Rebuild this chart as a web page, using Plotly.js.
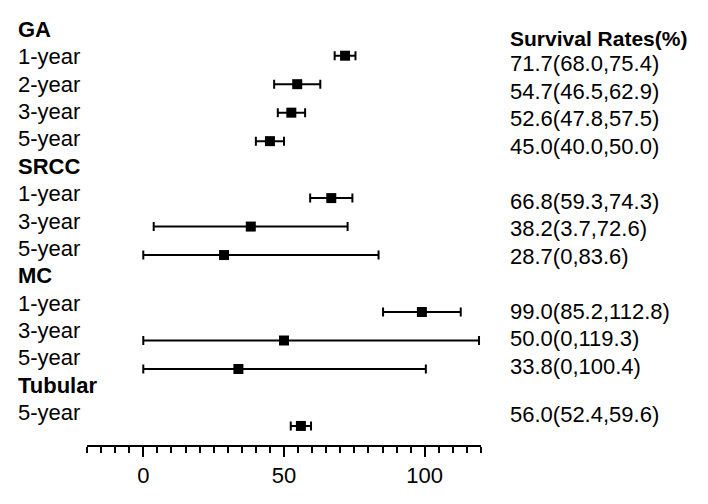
<!DOCTYPE html>
<html>
<head>
<meta charset="utf-8">
<script src="https://cdn.plot.ly/plotly-3.0.1.min.js"></script>
<style>html,body{margin:0;padding:0;background:#fff;}#chart{width:708px;height:504px;}</style>
</head>
<body>
<div id="chart"></div>
<script>
// ---- data ----
const groups = ['GA', 'SRCC', 'MC', 'Tubular'];
const periods = [
  ['1-year', '2-year', '3-year', '5-year'],
  ['1-year', '3-year', '5-year'],
  ['1-year', '3-year', '5-year'],
  ['5-year']
];
const rates = [[71.7, 54.7, 52.6, 45.0], [66.8, 38.2, 28.7], [99.0, 50.0, 33.8], [56.0]];
const lowers = [[68.0, 46.5, 47.8, 40.0], [59.3, 3.7, 0], [85.2, 0, 0], [52.4]];
const uppers = [[75.4, 62.9, 57.5, 50.0], [74.3, 72.6, 83.6], [112.8, 119.3, 100.4], [59.6]];
const ciText = [
  ['71.7(68.0,75.4)', '54.7(46.5,62.9)', '52.6(47.8,57.5)', '45.0(40.0,50.0)'],
  ['66.8(59.3,74.3)', '38.2(3.7,72.6)', '28.7(0,83.6)'],
  ['99.0(85.2,112.8)', '50.0(0,119.3)', '33.8(0,100.4)'],
  ['56.0(52.4,59.6)']
];
const columnTitle = 'Survival Rates(%)';

// ---- layout constants (pixels) ----
const W = 708, H = 504;
const plotL = 87, plotR = 481, axisPx = 445;
const markTop = 55.7, markStep = 28.48;     // marker grid
const labTop = 29.5, labStep = 27.36;       // left label grid
const valTop = 63.5, valStep = 27.5;        // right value grid
const valGroupShift = [0, 0, 0, -7];
const headPx = 38;
const labelX = 16, valueX = 508;
const FONT = 'Liberation Sans, Arial, sans-serif';
const FS = 22, HEAD_FS = 21;

const pxToY = p => (p - markTop) / markStep;
const pxToPaperX = p => (p - plotL) / (plotR - plotL);

// build rows
const xs = [], ys = [], ep = [], em = [];
const annotations = [];
let labelIdx = 0;
groups.forEach((g, gi) => {
  annotations.push({
    xref: 'paper', yref: 'y', x: pxToPaperX(labelX), y: pxToY(labTop + labStep * labelIdx),
    xanchor: 'left', yanchor: 'middle', showarrow: false, text: '<b>' + g + '</b>',
    font: {family: FONT, size: FS, color: '#000'}
  });
  labelIdx++;
  periods[gi].forEach((p, pi) => {
    const row = labelIdx - 1;
    xs.push(rates[gi][pi]);
    ys.push(row);
    ep.push(uppers[gi][pi] - rates[gi][pi]);
    em.push(rates[gi][pi] - lowers[gi][pi]);
    annotations.push({
      xref: 'paper', yref: 'y', x: pxToPaperX(labelX), y: pxToY(labTop + labStep * labelIdx),
      xanchor: 'left', yanchor: 'middle', showarrow: false, text: p,
      font: {family: FONT, size: FS, color: '#000'}
    });
    annotations.push({
      xref: 'paper', yref: 'y', x: pxToPaperX(valueX), y: pxToY(valTop + valStep * row + valGroupShift[gi]),
      xanchor: 'left', yanchor: 'middle', showarrow: false, text: ciText[gi][pi],
      font: {family: FONT, size: FS, color: '#000'}
    });
    labelIdx++;
  });
});
annotations.push({
  xref: 'paper', yref: 'y', x: pxToPaperX(valueX), y: pxToY(headPx),
  xanchor: 'left', yanchor: 'middle', showarrow: false, text: '<b>' + columnTitle + '</b>',
  font: {family: FONT, size: HEAD_FS, color: '#000'}
});

const trace = {
  type: 'scatter', mode: 'markers', x: xs, y: ys,
  marker: {symbol: 'square', size: 10, color: '#000'},
  error_x: {type: 'data', symmetric: false, array: ep, arrayminus: em,
            color: '#000', thickness: 2, width: 4.5},
  cliponaxis: false, hoverinfo: 'skip', showlegend: false
};

const layout = {
  width: W, height: H,
  margin: {l: plotL, r: W - plotR, t: 0, b: H - axisPx, pad: 0},
  paper_bgcolor: '#fff', plot_bgcolor: '#fff',
  showlegend: false,
  font: {family: FONT, size: FS, color: '#000'},
  xaxis: {
    range: [-20, 120], showgrid: false, zeroline: false,
    showline: true, linecolor: '#000', linewidth: 2,
    ticks: 'outside', ticklen: 10, tickwidth: 2, tickcolor: '#000',
    tick0: 0, dtick: 50,
    tickfont: {family: FONT, size: FS, color: '#000'},
    minor: {ticks: 'outside', dtick: 5, tick0: 0, ticklen: 6, tickwidth: 2, tickcolor: '#000', showgrid: false},
    fixedrange: true
  },
  yaxis: {
    range: [pxToY(axisPx), pxToY(0)], visible: false, showgrid: false, zeroline: false, fixedrange: true
  },
  annotations: annotations
};

Plotly.newPlot('chart', [trace], layout, {displayModeBar: false, staticPlot: true});
</script>
</body>
</html>
